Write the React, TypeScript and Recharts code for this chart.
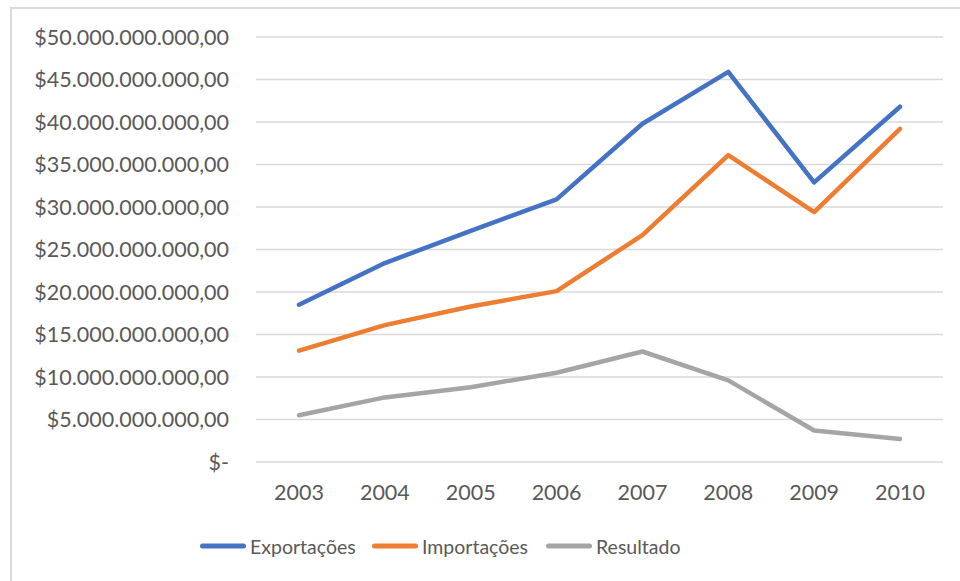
import React from 'react';
import { LineChart, Line, XAxis, YAxis, CartesianGrid, Legend } from 'recharts';

// Values in billions of dollars
const anos = ['2003', '2004', '2005', '2006', '2007', '2008', '2009', '2010'];
const exportacoes = [18.5, 23.4, 27.2, 30.9, 39.8, 45.9, 32.9, 41.8];
const importacoes = [13.1, 16.1, 18.3, 20.1, 26.7, 36.1, 29.4, 39.2];
const resultado = [5.5, 7.6, 8.8, 10.5, 13.0, 9.6, 3.7, 2.7];
const yTicks = [0, 5, 10, 15, 20, 25, 30, 35, 40, 45, 50];

const data = anos.map((ano, i) => ({
  ano,
  Exportações: exportacoes[i],
  Importações: importacoes[i],
  Resultado: resultado[i],
}));

const FONT = 'Lato, "Noto Sans", sans-serif';
const TEXT = '#595959';

function formatMoeda(bilhoes: number): string {
  if (bilhoes === 0) return '$-';
  const inteiro = Math.round(bilhoes * 1e9).toString();
  const comPontos = inteiro.replace(/\B(?=(\d{3})+(?!\d))/g, '.');
  return '$' + comPontos + ',00';
}

const itemWidths = [172, 174, 140];

function renderLegend(props: any) {
  const payload = props.payload || [];
  return (
    <div
      style={{
        display: 'flex',
        height: 40,
        alignItems: 'center',
        paddingLeft: 200,
        fontFamily: FONT,
        fontSize: 19.5,
        color: TEXT,
      }}
    >
      {payload.map((entry: any, i: number) => (
        <div
          key={entry.value}
          style={{ display: 'flex', alignItems: 'center', width: itemWidths[i] }}
        >
          <svg width={46} height={10} style={{ marginRight: 4 }}>
            <line
              x1={2.5}
              y1={5}
              x2={43.5}
              y2={5}
              stroke={entry.color}
              strokeWidth={5}
              strokeLinecap="round"
            />
          </svg>
          <span>{entry.value}</span>
        </div>
      ))}
    </div>
  );
}

export default function App() {
  return (
    <div style={{ position: 'absolute', left: 0, top: 0, width: 960, height: 581, background: '#fff', overflow: 'hidden' }}>
      <div
        style={{
          position: 'absolute',
          left: 10,
          top: 7,
          width: 1000,
          height: 640,
          borderTop: '2px solid #D9D9D9',
          borderLeft: '2px solid #D9D9D9',
        }}
      />
      <div style={{ position: 'absolute', left: 0, top: 0 }}>
        <LineChart
          width={960}
          height={581}
          data={data}
          margin={{ top: 37, right: 17, bottom: 15, left: 0 }}
        >
          <CartesianGrid vertical={false} stroke="#D9D9D9" strokeWidth={1.5} />
          <XAxis
            dataKey="ano"
            axisLine={false}
            tickLine={false}
            tickSize={0}
            tickMargin={23}
            height={64}
            padding={{ left: 43, right: 43 }}
            tick={{ fill: TEXT, fontSize: 21.5, fontFamily: FONT }}
            interval={0}
          />
          <YAxis
            width={256}
            domain={[0, 50]}
            ticks={yTicks}
            axisLine={false}
            tickLine={false}
            tickSize={0}
            tickMargin={27}
            tickFormatter={formatMoeda}
            tick={{ fill: TEXT, fontSize: 21.5, fontFamily: FONT }}
            interval={0}
          />
          <Legend verticalAlign="bottom" content={renderLegend} wrapperStyle={{ left: 0, width: 960 }} />
          <Line
            type="linear"
            dataKey="Exportações"
            stroke="#4472C4"
            strokeWidth={4.5}
            strokeLinecap="round"
            strokeLinejoin="round"
            dot={false}
            activeDot={false}
            isAnimationActive={false}
          />
          <Line
            type="linear"
            dataKey="Importações"
            stroke="#ED7D31"
            strokeWidth={4.5}
            strokeLinecap="round"
            strokeLinejoin="round"
            dot={false}
            activeDot={false}
            isAnimationActive={false}
          />
          <Line
            type="linear"
            dataKey="Resultado"
            stroke="#A5A5A5"
            strokeWidth={4.5}
            strokeLinecap="round"
            strokeLinejoin="round"
            dot={false}
            activeDot={false}
            isAnimationActive={false}
          />
        </LineChart>
      </div>
    </div>
  );
}
